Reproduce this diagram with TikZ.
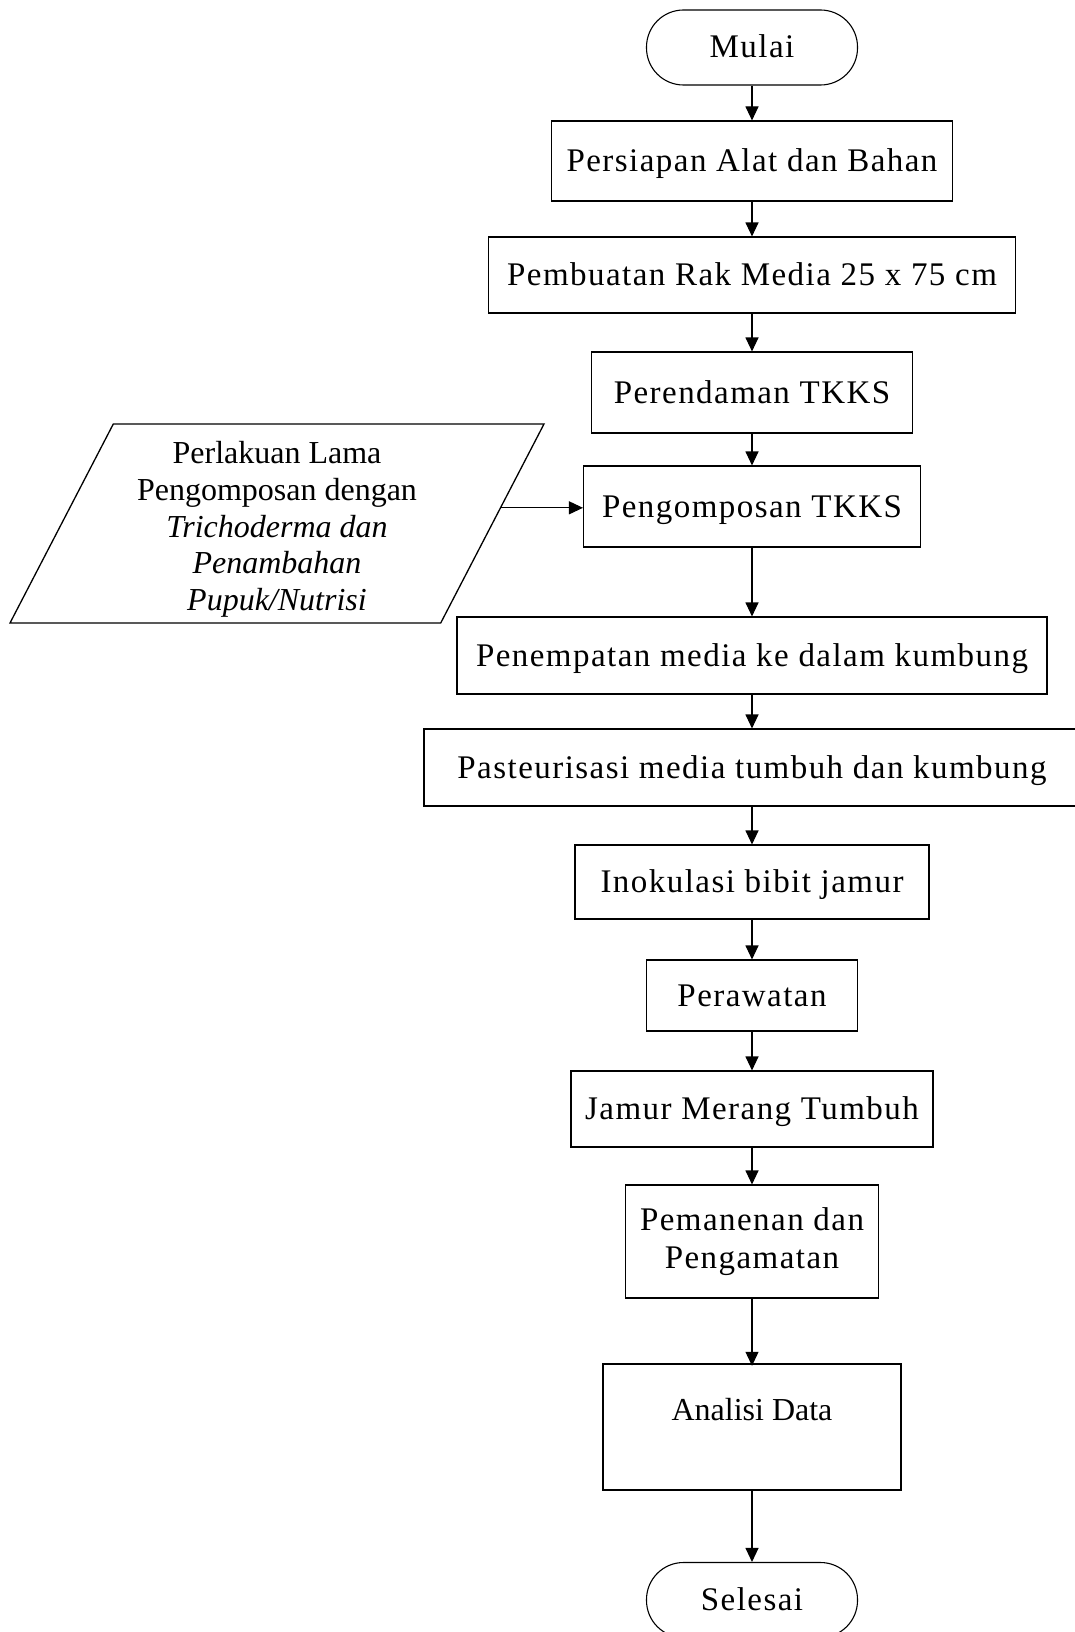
\documentclass[tikz,border=0pt]{standalone}
\usepackage{fontspec}
\setmainfont{Liberation Serif}
\newfontfamily\boxfont{Liberation Serif}[LetterSpace=4.4]
\usetikzlibrary{arrows.meta,shapes.geometric}
\tikzset{
  boxtext/.style={font=\boxfont\fontsize{33}{38}\selectfont},
  stadium/.style={draw, line width=1.1pt, rounded corners=37pt, minimum width=211pt, minimum height=75pt, text height=25pt, text depth=4pt, boxtext},
  proc/.style={draw, line width=1.1pt, inner xsep=0pt, text height=25pt, text depth=4pt, boxtext},
  inbox/.style={trapezium, trapezium left angle=62, trapezium right angle=118, trapezium stretches body, draw, line width=1.3pt, align=center, font=\fontsize{32}{36.7}\selectfont},
  arr/.style={-{Triangle[width=13pt,length=14pt]}, line width=1.1pt}
}
\begin{document}
\begin{tikzpicture}[x=1pt,y=-1pt]
\useasboundingbox (0,0) rectangle (1075,1632);
\node[stadium] (mulai) at (752,47.5) {Mulai};
\node[proc, minimum width=401pt, minimum height=80pt] (siap) at (752,161) {Persiapan Alat dan Bahan};
\node[proc, minimum width=527pt, minimum height=76pt] (rak) at (752,275) {Pembuatan Rak Media 25 x 75 cm};
\node[proc, minimum width=321pt, minimum height=81pt] (rendam) at (752,392.5) {Perendaman TKKS};
\node[proc, minimum width=337pt, minimum height=81pt] (kompos) at (752,506.5) {Pengomposan TKKS};
\node[proc, minimum width=590pt, minimum height=77pt] (tempat) at (752,655.5) {Penempatan media ke dalam kumbung};
\node[proc, minimum width=656pt, minimum height=77pt] (pasteur) at (752,767.5) {Pasteurisasi media tumbuh dan kumbung};
\node[proc, minimum width=354pt, minimum height=74pt] (inok) at (752,882) {Inokulasi bibit jamur};
\node[proc, minimum width=211pt, minimum height=71pt] (rawat) at (752,995.5) {Perawatan};
\node[proc, minimum width=362pt, minimum height=76pt] (tumbuh) at (752,1109) {Jamur Merang Tumbuh};
\node[proc, align=center, text height=, text depth=, minimum width=253pt, minimum height=113pt] (panen) at (752,1241.5) {Pemanenan dan\\Pengamatan};
\node[draw, line width=2.4pt, inner sep=0pt, text height=56pt, text depth=70pt, minimum width=298pt, font=\fontsize{32}{37}\selectfont] (analisis) at (752,1427) {Analisi Data};
\node[stadium] (selesai) at (752,1600) {Selesai};
% input parallelogram
\node[inbox, minimum width=534pt, minimum height=199pt] (lama) at (277,523.5) {\rule{0pt}{34pt}Perlakuan Lama\\Pengomposan dengan\\\textit{Trichoderma dan}\\\textit{Penambahan}\\\textit{Pupuk/Nutrisi}};
\foreach \a/\b in {mulai/siap,siap/rak,rak/rendam,rendam/kompos,kompos/tempat,tempat/pasteur,pasteur/inok,inok/rawat,rawat/tumbuh,tumbuh/panen,analisis/selesai}
\draw[arr] (\a.south) -- (\b.north);
\draw[arr] (panen.south) -- ([yshift=-3pt]analisis.north);
\draw[arr] (lama.4) -- (lama.4 -| kompos.west);
\end{tikzpicture}
\end{document}
